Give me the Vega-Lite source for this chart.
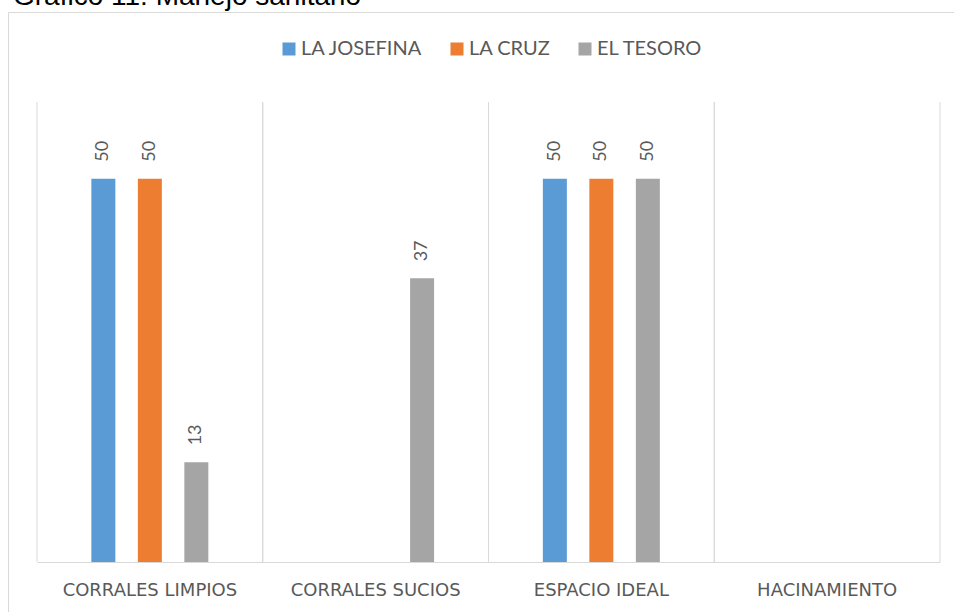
{
  "$schema": "https://vega.github.io/schema/vega-lite/v6.json",
  "autosize": {"type": "none"},
  "padding": {"left": 8, "top": 12, "right": 0, "bottom": 0},
  "width": 947,
  "height": 601,
  "background": "white",
  "title": {
    "text": "Gráfico 11: Manejo sanitario",
    "anchor": "start",
    "frame": "group",
    "font": "Liberation Sans",
    "fontSize": 28,
    "fontWeight": "normal",
    "color": "#000000",
    "baseline": "alphabetic",
    "offset": 0,
    "dx": 5,
    "dy": 21
  },
  "config": {
    "view": {"stroke": "#d9d9d9", "strokeWidth": 1},
    "font": "Lato"
  },
  "datasets": {
    "valores": [
      {"categoria": "CORRALES LIMPIOS", "finca": "LA JOSEFINA", "valor": 50},
      {"categoria": "CORRALES LIMPIOS", "finca": "LA CRUZ", "valor": 50},
      {"categoria": "CORRALES LIMPIOS", "finca": "EL TESORO", "valor": 13},
      {"categoria": "CORRALES SUCIOS", "finca": "EL TESORO", "valor": 37},
      {"categoria": "ESPACIO IDEAL", "finca": "LA JOSEFINA", "valor": 50},
      {"categoria": "ESPACIO IDEAL", "finca": "LA CRUZ", "valor": 50},
      {"categoria": "ESPACIO IDEAL", "finca": "EL TESORO", "valor": 50}
    ],
    "categorias": [
      {"categoria": "CORRALES LIMPIOS"},
      {"categoria": "CORRALES SUCIOS"},
      {"categoria": "ESPACIO IDEAL"},
      {"categoria": "HACINAMIENTO"}
    ]
  },
  "layer": [
    {
      "data": {"name": "categorias"},
      "mark": {"type": "rule", "color": "#d9d9d9", "strokeWidth": 1},
      "encoding": {
        "x": {
          "field": "categoria",
          "type": "nominal",
          "bandPosition": 0,
          "scale": {
            "domain": ["CORRALES LIMPIOS", "CORRALES SUCIOS", "ESPACIO IDEAL", "HACINAMIENTO"],
            "range": [29, 932],
            "paddingInner": 0,
            "paddingOuter": 0
          },
          "axis": {
            "orient": "bottom",
            "offset": -51,
            "grid": false,
            "ticks": false,
            "tickSize": 0,
            "domainColor": "#d9d9d9",
            "domainWidth": 1,
            "labelFont": "DejaVu Sans",
            "labelFontSize": 18,
            "labelColor": "#595959",
            "labelPadding": 19,
            "labelAngle": 0,
            "labelLimit": 0,
            "title": null
          }
        },
        "y": {
          "datum": 0,
          "type": "quantitative",
          "scale": {"domain": [0, 60], "range": [550, 90], "nice": false, "zero": true},
          "axis": null
        },
        "y2": {"datum": 60}
      }
    },
    {
      "data": {"name": "categorias"},
      "mark": {"type": "rule", "color": "#d9d9d9", "strokeWidth": 1},
      "encoding": {
        "x": {"field": "categoria", "type": "nominal", "bandPosition": 1},
        "y": {"datum": 0, "type": "quantitative"},
        "y2": {"datum": 60}
      }
    },
    {
      "data": {"name": "valores"},
      "mark": {"type": "bar"},
      "encoding": {
        "x": {"field": "categoria", "type": "nominal"},
        "xOffset": {
          "field": "finca",
          "type": "nominal",
          "scale": {
            "domain": ["LA JOSEFINA", "LA CRUZ", "EL TESORO"],
            "range": [43.1, 182.6],
            "paddingInner": 0.484,
            "paddingOuter": 0.242
          }
        },
        "y": {"field": "valor", "type": "quantitative"},
        "color": {
          "field": "finca",
          "type": "nominal",
          "scale": {
            "domain": ["LA JOSEFINA", "LA CRUZ", "EL TESORO"],
            "range": ["#5b9bd5", "#ed7d31", "#a5a5a5"]
          },
          "legend": {
            "orient": "none",
            "legendX": 271,
            "legendY": 27,
            "direction": "horizontal",
            "title": null,
            "symbolType": "square",
            "symbolSize": 169,
            "symbolStrokeWidth": 0,
            "labelFont": "Lato",
            "labelFontSize": 20,
            "labelColor": "#595959",
            "labelOffset": 2,
            "columnPadding": 24,
            "padding": 0
          }
        }
      }
    },
    {
      "data": {"name": "valores"},
      "mark": {
        "type": "text",
        "angle": 270,
        "align": "left",
        "baseline": "middle",
        "dx": 17,
        "font": "Lato",
        "fontSize": 18,
        "color": "#595959"
      },
      "encoding": {
        "x": {"field": "categoria", "type": "nominal"},
        "xOffset": {"field": "finca", "type": "nominal"},
        "y": {"field": "valor", "type": "quantitative"},
        "text": {"field": "valor", "type": "quantitative"}
      }
    }
  ]
}
